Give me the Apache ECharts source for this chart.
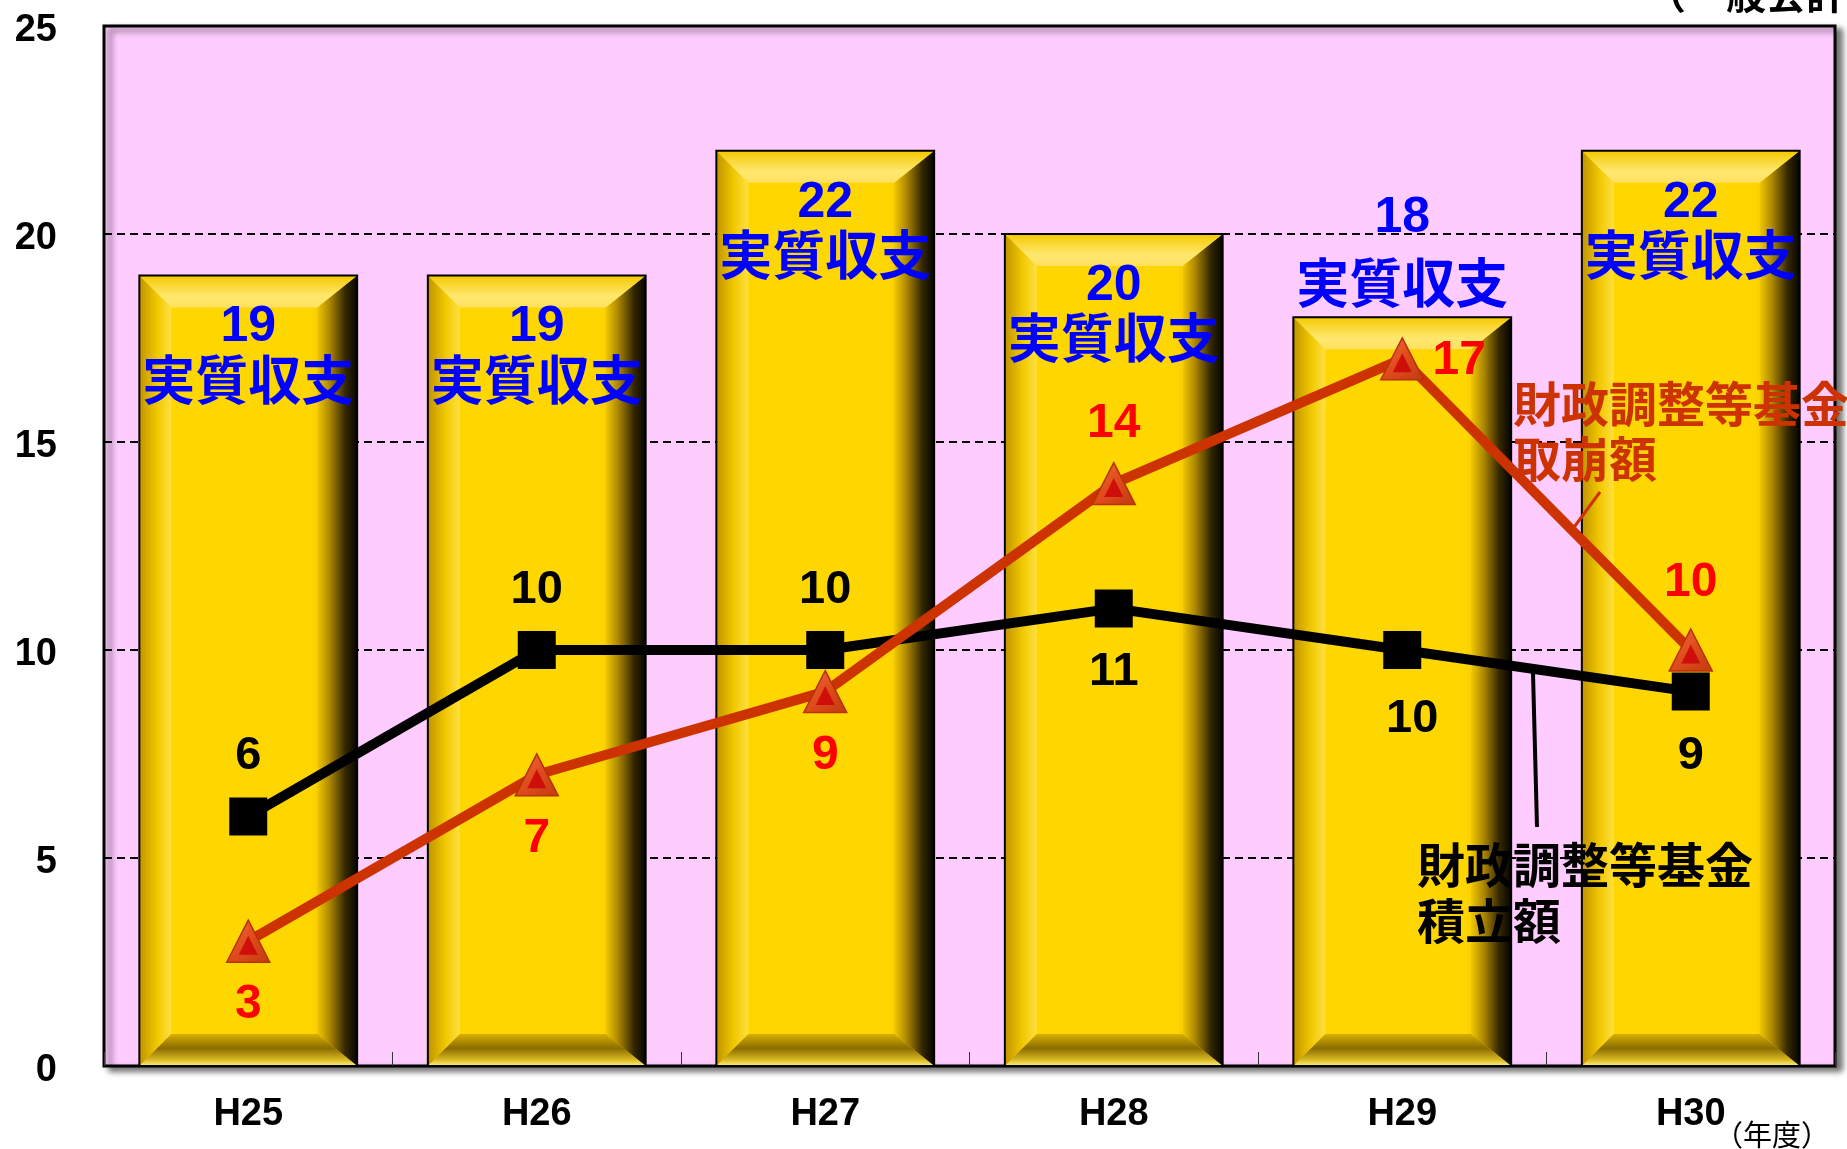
<!DOCTYPE html>
<html><head><meta charset="utf-8">
<script src="https://cdn.jsdelivr.net/npm/echarts@6/dist/echarts.min.js"></script>
<style>html,body{margin:0;padding:0;background:#fff}#c{width:1847px;height:1149px}</style>
</head><body><div id="c"></div>
<script>
const categories = ['H25','H26','H27','H28','H29','H30'];
const balanceValues = [19, 19, 22, 20, 18, 22];          // 実質収支
const reserveValues = [6, 10, 10, 11, 10, 9];            // 財政調整等基金積立額
const drawdownValues = [3, 7, 9, 14, 17, 10];            // 財政調整等基金取崩額
const yTicks = { min: 0, max: 25, interval: 5 };
const balanceLabelPlace = ['inside','inside','inside','inside','above','inside'];
const reserveLabelPlace = ['above','above','above','below','belowRight','below'];
const drawdownLabelPlace = ['below','below','below','above','right','aboveHigh'];

const NUM_FONT = "'Liberation Sans Narrow','Liberation Sans',Arial,sans-serif";
const AX_FONT = "'Liberation Sans',Arial,sans-serif";
const CJK_FONT = "'Noto Sans CJK JP','Noto Sans CJK SC',sans-serif";

const placeOffset = { above: [0, -60], aboveHigh: [0, -67], below: [0, 64],
                      belowRight: [10, 69], right: [57, 2] };

const LG = (x0,y0,x1,y1,stops) => new echarts.graphic.LinearGradient(x0,y0,x1,y1,
  stops.map(s => ({offset: s[0], color: s[1]})));

function renderBar(params, api) {
  const idx = api.value(0), v = api.value(1);
  const top = api.coord([idx, v]);
  const base = api.coord([idx, 0]);
  const w = api.size([1, 0])[0] * 0.755;
  const x0 = top[0] - w / 2, x1 = x0 + w, yt = top[1], yb = base[1];
  const b = 32;
  const cx = top[0];
  const place = balanceLabelPlace[params.dataIndex];
  const nY = place === 'above' ? yt - 99 : yt + 52;
  const tY = place === 'above' ? yt - 34 : yt + 104;
  return {
    type: 'group',
    children: [
      { type: 'rect', shape: {x: x0, y: yt, width: w, height: yb - yt},
        style: { fill: LG(0,0,1,0,[[0,'#e0b000'],[0.15,'#ffd700'],[0.78,'#ffd700'],[1,'#e0b400']]) } },
      { type: 'polygon', shape: {points: [[x0,yt],[x0+b,yt+b],[x0+b,yb-b],[x0,yb]]},
        style: { fill: LG(0,0,1,0,[[0,'#c09400'],[0.55,'#f0c800'],[1,'#ffe040']]) } },
      { type: 'polygon', shape: {points: [[x1,yt],[x1-b-8,yt+b],[x1-b-8,yb-b],[x1,yb]]},
        style: { fill: LG(0,0,1,0,[[0,'#f0c800'],[0.3,'#b08a00'],[0.7,'#352800'],[1,'#050400']]) } },
      { type: 'polygon', shape: {points: [[x0,yt],[x1,yt],[x1-b-8,yt+b],[x0+b,yt+b]]},
        style: { fill: LG(0,0,0,1,[[0,'#f5c800'],[0.65,'#ffe870'],[1,'#ffe060']]) } },
      { type: 'polygon', shape: {points: [[x0+b,yb-b],[x1-b-8,yb-b],[x1,yb],[x0,yb]]},
        style: { fill: LG(0,0,0,1,[[0,'#d8b000'],[0.45,'#8a6c00'],[0.8,'#d8b820'],[1,'#fff080']]) } },
      { type: 'rect', shape: {x: x0, y: yt, width: w, height: yb - yt},
        style: { fill: 'none', stroke: '#000', lineWidth: 2 } },
      { type: 'text', x: cx, y: nY,
        style: { text: String(v), fill: '#0000ff', font: "bold 50px " + NUM_FONT,
                 align: 'center', verticalAlign: 'middle' } },
      { type: 'text', x: cx, y: tY,
        style: { text: '実質収支', fill: '#0000ff', font: "bold 53px " + CJK_FONT,
                 align: 'center', verticalAlign: 'middle' } }
    ]
  };
}

function lineData(values, places) {
  return values.map((v, i) => ({ value: v, label: { offset: placeOffset[places[i]] } }));
}

const chart = echarts.init(document.getElementById('c'), null, {renderer: 'canvas'});
chart.setOption({
  animation: false,
  grid: { left: 104, top: 26, right: 12, bottom: 83, show: true,
          backgroundColor: '#ffccff', borderColor: '#000', borderWidth: 3,
          shadowColor: 'rgba(0,0,0,0.55)', shadowBlur: 6, shadowOffsetX: 6, shadowOffsetY: 4 },
  xAxis: {
    type: 'category', data: categories,
    axisLine: { show: false },
    axisTick: { show: true, inside: true, length: 14, lineStyle: { color: '#333', width: 1 } },
    axisLabel: { color: '#000', fontSize: 38, fontWeight: 'bold', fontFamily: AX_FONT, margin: 30 }
  },
  yAxis: {
    type: 'value', min: yTicks.min, max: yTicks.max, interval: yTicks.interval,
    axisLine: { show: false }, axisTick: { show: false },
    axisLabel: { color: '#000', margin: 47, formatter: '{a|{value}}',
                 rich: { a: { fontSize: 38, fontWeight: 'bold', fontFamily: AX_FONT, color: '#000',
                              padding: [9, 0, 0, 0] } } },
    splitLine: { lineStyle: { color: '#000', width: 2, type: [8, 5] } }
  },
  series: [
    { type: 'custom', name: '実質収支', renderItem: renderBar, z: 2,
      encode: { x: 0, y: 1 },
      data: balanceValues.map((v, i) => [i, v]) },
    { type: 'line', name: '財政調整等基金積立額', z: 4,
      data: lineData(reserveValues, reserveLabelPlace),
      symbol: 'rect', symbolSize: 38,
      lineStyle: { color: '#000', width: 10 },
      itemStyle: { color: '#000' },
      label: { show: true, position: 'inside', color: '#000', fontSize: 47,
               fontFamily: NUM_FONT, fontWeight: 'bold' } },
    { type: 'line', name: '財政調整等基金取崩額', z: 5,
      data: lineData(drawdownValues, drawdownLabelPlace),
      symbol: 'triangle', symbolSize: [43, 42],
      lineStyle: { color: '#cc3300', width: 10 },
      itemStyle: { color: LG(0,0,1,1,[[0,'#f07040'],[0.5,'#e04c1c'],[1,'#c03a10']]),
                   borderColor: '#b83208', borderWidth: 1.5 },
      label: { show: true, position: 'inside', color: '#ff0000', fontSize: 48,
               fontFamily: NUM_FONT, fontWeight: 'bold' } },
    { type: 'scatter', z: 6, silent: true,
      data: drawdownValues, symbol: 'triangle', symbolSize: [19, 19], symbolOffset: [0, 4],
      itemStyle: { color: '#cc0008' } }
  ],
  graphic: [
    { type: 'text', left: 30, top: -28,
      style: { text: '（単位：億円）', font: "26px " + CJK_FONT, fill: '#000' } },
    { type: 'text', x: 1886, y: -26,
      style: { text: '（一般会計）', font: "bold 40px " + CJK_FONT, fill: '#000', align: 'right' } },
    { type: 'text', x: 1714, y: 1120,
      style: { text: '（年度）', font: "29px " + CJK_FONT, fill: '#000' } },
    { type: 'text', x: 1513, y: 376, z: 10,
      style: { text: '財政調整等基金\n取崩額', font: "bold 48px " + CJK_FONT,
               lineHeight: 55, fill: '#cc3300' } },
    { type: 'line', z: 10, shape: { x1: 1600, y1: 492, x2: 1572, y2: 530 },
      style: { stroke: '#cc3300', lineWidth: 3 } },
    { type: 'text', x: 1417, y: 837, z: 10,
      style: { text: '財政調整等基金\n積立額', font: "bold 48px " + CJK_FONT,
               lineHeight: 56, fill: '#000' } },
    { type: 'line', z: 10, shape: { x1: 1533, y1: 673, x2: 1537, y2: 827 },
      style: { stroke: '#000', lineWidth: 4 } }
  ]
});
</script>
</body></html>
